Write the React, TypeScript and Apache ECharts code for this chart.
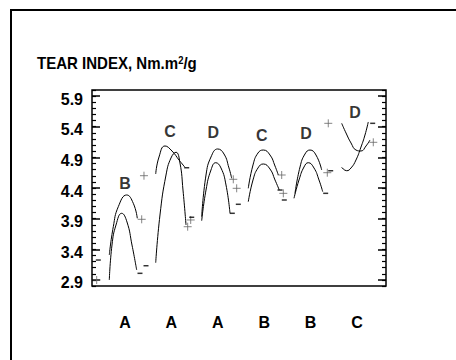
import React, { useEffect, useRef } from "react";
import * as echarts from "echarts";

const categories = ["A", "A", "A", "B", "B", "C"];
const yTickValues = [2.9, 3.4, 3.9, 4.4, 4.9, 5.4, 5.9];

const g1Upper = [[-0.338, 3.306], [-0.252, 3.768], [-0.144, 4.095], [0.037, 4.286], [0.179, 4.15], [0.265, 3.905]];
const g1Lower = [[-0.338, 2.898], [-0.28, 3.469], [-0.194, 3.796], [-0.071, 3.987], [0.043, 3.845], [0.151, 3.469], [0.252, 3.061]];
const g2Upper = [[0.662, 4.629], [0.733, 4.906], [0.862, 5.086], [1.013, 5.004], [1.164, 4.857], [1.293, 4.738]];
const g2Lower = [[0.662, 3.18], [0.754, 3.959], [0.884, 4.612], [0.991, 4.89], [1.099, 4.983], [1.185, 4.808], [1.25, 4.367], [1.315, 3.796]];
const g3Upper = [[1.653, 3.931], [1.746, 4.612], [1.853, 4.906], [1.998, 5.037], [2.134, 4.955], [2.241, 4.727], [2.299, 4.558]];
const g3Lower = [[1.653, 3.866], [1.746, 4.367], [1.853, 4.694], [1.955, 4.813], [2.069, 4.727], [2.177, 4.449], [2.263, 3.987]];
const g4Upper = [[2.657, 4.395], [2.759, 4.776], [2.866, 4.971], [2.981, 5.02], [3.125, 4.939], [3.233, 4.759], [3.304, 4.612]];
const g4Lower = [[2.657, 4.176], [2.759, 4.531], [2.866, 4.727], [2.981, 4.792], [3.125, 4.71], [3.233, 4.531], [3.325, 4.367]];
const g5Upper = [[3.664, 4.313], [3.772, 4.743], [3.879, 4.955], [3.987, 5.02], [4.116, 4.939], [4.239, 4.694]];
const g5Lower = [[3.642, 4.232], [3.75, 4.531], [3.858, 4.743], [3.95, 4.813], [4.073, 4.727], [4.181, 4.531], [4.261, 4.34]];
const g6CurveA = [[4.67, 5.456], [4.763, 5.298], [4.871, 5.135], [4.978, 5.02], [5.086, 5.004], [5.194, 5.086], [5.28, 5.184]];
const g6CurveB = [[4.67, 4.738], [4.778, 4.682], [4.871, 4.727], [4.978, 4.857], [5.086, 5.069], [5.172, 5.265], [5.243, 5.478]];

const plusPoints = [
  [-0.61, 2.898], [0.36, 3.889], [0.409, 4.601], [1.351, 3.768], [1.416, 3.878],
  [2.334, 4.542], [2.407, 4.395], [3.377, 4.612], [3.412, 4.313], [4.36, 4.65],
  [4.381, 5.456], [5.351, 5.146],
];
const minusPoints = [
  [-0.575, 3.224], [0.323, 3.007], [0.453, 3.131], [1.33, 4.731], [1.438, 3.922],
  [2.442, 4.134], [2.313, 3.987], [3.341, 4.367], [3.433, 4.204], [4.433, 4.682],
  [4.325, 4.313], [5.338, 5.456],
];
const groupLabels = ["B", "C", "D", "C", "D", "D"];
const groupLabelPos = [[0, 4.477], [0.97, 5.319], [1.903, 5.303], [2.946, 5.265], [3.901, 5.293], [4.957, 5.636]];

const FONT = "'Liberation Sans', Arial, sans-serif";

export default function App() {
  const ref = useRef<HTMLDivElement>(null);
  useEffect(() => {
    if (!ref.current) return;
    const chart = echarts.init(ref.current, undefined, { renderer: "svg" });
    const curves = [g1Upper, g1Lower, g2Upper, g2Lower, g3Upper, g3Lower, g4Upper, g4Lower, g5Upper, g5Lower, g6CurveA, g6CurveB];
    const lineSeries = curves.map((c) => ({
      type: "line",
      data: c,
      smooth: 0.5,
      showSymbol: false,
      symbol: "none",
      lineStyle: { color: "#000", width: 1 },
      silent: true,
    }));
    const minorAxisCommon = {
      type: "value",
      min: 2.8,
      max: 6.0,
      interval: 0.1,
      axisLine: { show: false, onZero: false },
      axisLabel: { show: false },
      splitLine: { show: false },
      axisTick: { show: true, inside: true, length: 4, lineStyle: { color: "#000", width: 1.2 } },
    };
    const majorAxisCommon = {
      type: "value",
      min: 2.8,
      max: 6.0,
      axisLine: { show: false, onZero: false },
      splitLine: { show: false },
      axisTick: { show: true, inside: true, length: 8, customValues: yTickValues, lineStyle: { color: "#000", width: 1.5 } },
    };
    chart.setOption({
      animation: false,
      backgroundColor: "#fff",
      grid: {
        left: 92,
        top: 90,
        width: 294,
        height: 196,
        show: true,
        borderColor: "#000",
        borderWidth: 1.5,
        backgroundColor: "transparent",
      },
      xAxis: {
        type: "value",
        min: -0.711,
        max: 5.625,
        axisLine: { show: false, onZero: false },
        axisTick: { show: false },
        splitLine: { show: false },
        axisLabel: {
          customValues: [0, 1, 2, 3, 4, 5],
          formatter: (v: number) => categories[Math.round(v)] ?? "",
          fontFamily: FONT,
          fontWeight: "bold",
          fontSize: 16,
          color: "#000",
          margin: 28,
        },
      },
      yAxis: [
        {
          ...majorAxisCommon,
          position: "left",
          axisLabel: {
            customValues: yTickValues,
            formatter: (v: number) => v.toFixed(1),
            fontFamily: FONT,
            fontWeight: "bold",
            fontSize: 16,
            color: "#000",
            margin: 9,
            verticalAlign: "top",
            lineHeight: 6,
          },
        },
        { ...minorAxisCommon, position: "left" },
        { ...majorAxisCommon, position: "right", axisLabel: { show: false } },
        { ...minorAxisCommon, position: "right" },
      ],
      graphic: [
        {
          type: "rect",
          shape: { x: 11, y: 10, width: 470, height: 380 },
          style: { fill: "none", stroke: "#000", lineWidth: 2 },
          silent: true,
        },
        {
          type: "text",
          x: 37,
          y: 55,
          scaleX: 0.94,
          style: {
            text: "{a|TEAR INDEX, Nm.m}{s|2}{a|/g}",
            rich: {
              a: { fontFamily: FONT, fontWeight: "bold", fontSize: 16, lineHeight: 16, verticalAlign: "bottom", fill: "#000" },
              s: { fontFamily: FONT, fontWeight: "bold", fontSize: 10, lineHeight: 10, verticalAlign: "top", padding: [0, 0, 8, 0], fill: "#000" },
            },
          },
        },
      ],
      series: [
        ...lineSeries,
        {
          type: "scatter",
          data: plusPoints,
          symbol: "path://M0,5L10,5M5,0L5,10",
          symbolSize: 8,
          itemStyle: { color: "rgba(0,0,0,0)", borderColor: "#666", borderWidth: 1 },
          silent: true,
        },
        {
          type: "scatter",
          data: minusPoints,
          symbol: "rect",
          symbolSize: [5, 1.5],
          itemStyle: { color: "#000" },
          silent: true,
        },
        {
          type: "scatter",
          data: groupLabelPos.map((p, i) => ({ value: p, name: groupLabels[i] })),
          symbolSize: 0,
          label: {
            show: true,
            position: "inside",
            formatter: "{b}",
            fontFamily: FONT,
            fontWeight: "bold",
            fontSize: 16,
            color: "#000",
          },
          silent: true,
        },
      ],
    });
    return () => chart.dispose();
  }, []);
  return <div ref={ref} style={{ position: "absolute", left: 0, top: 0, width: 456, height: 360 }} />;
}
